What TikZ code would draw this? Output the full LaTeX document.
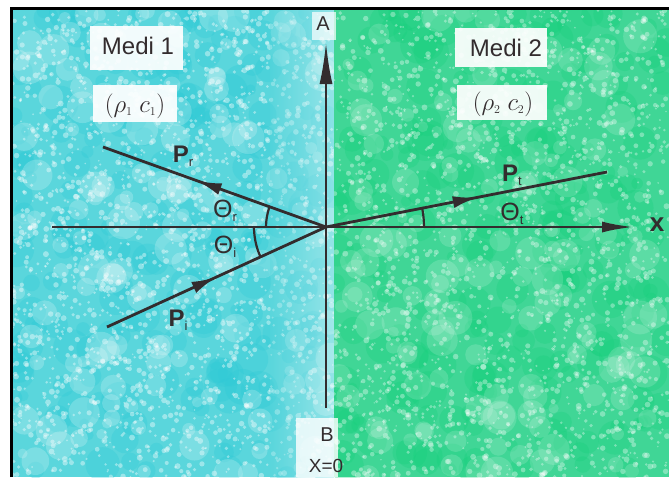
\documentclass[tikz,border=0pt]{standalone}
\usepackage{fontspec}
\setmainfont{Liberation Sans}
\usetikzlibrary{arrows.meta,decorations.markings}
\definecolor{cyanbg}{HTML}{5AD6DC}
\definecolor{cyandk}{HTML}{2ECAD6}
\definecolor{greenbg}{HTML}{40D696}
\definecolor{greendk}{HTML}{16D07C}
\definecolor{ink}{HTML}{332C2E}
\begin{document}
\begin{tikzpicture}[x=1pt,y=-1pt,
  ray/.style={ink,line width=2.8pt},
  axisline/.style={ink,line width=2.8pt},
  midarrow/.style={postaction={decorate,decoration={markings,
     mark=at position #1 with {\arrow{Latex[length=25pt,width=12pt]}}}}},
  anglearc/.style={ink,line width=2.2pt},
  lbl/.style={inner sep=0pt,text=ink},
  whitebox/.style={fill=white,draw=none,opacity=0.92}]
\useasboundingbox (0,0) rectangle (669,477);
\fill[white] (0,0) rectangle (669,477);
% left medium
\begin{scope}
\clip (12,10) rectangle (334,477);
\fill[cyanbg] (12,10) rectangle (334,477);
\pgfmathsetseed{11}
\foreach \i in {1,...,220}{
  \pgfmathsetmacro\px{12+rnd*322}
  \pgfmathsetmacro\py{10+rnd*467}
  \pgfmathsetmacro\pr{5+rnd*14}
  \fill[cyandk,opacity=0.3] (\px,\py) circle (\pr pt);
}
\foreach \i in {1,...,150}{
  \pgfmathsetmacro\px{12+rnd*322}
  \pgfmathsetmacro\py{10+rnd*467}
  \pgfmathsetmacro\pr{5+rnd*12}
  \fill[white,opacity=0.2] (\px,\py) circle (\pr pt);
}
\foreach \i in {1,...,2400}{
  \pgfmathsetmacro\px{12+rnd*322}
  \pgfmathsetmacro\py{10+rnd*467}
  \pgfmathsetmacro\pr{0.8+rnd*2.2}
  \fill[white,opacity=0.4] (\px,\py) circle (\pr pt);
}
\shade[left color=cyanbg,right color=white,opacity=0.35] (270,10) rectangle (334,477);
\end{scope}
% right medium
\begin{scope}
\clip (334,10) rectangle (669,477);
\fill[greenbg] (334,10) rectangle (669,477);
\pgfmathsetseed{23}
\foreach \i in {1,...,220}{
  \pgfmathsetmacro\px{334+rnd*335}
  \pgfmathsetmacro\py{10+rnd*467}
  \pgfmathsetmacro\pr{5+rnd*14}
  \fill[greendk,opacity=0.3] (\px,\py) circle (\pr pt);
}
\foreach \i in {1,...,150}{
  \pgfmathsetmacro\px{334+rnd*335}
  \pgfmathsetmacro\py{10+rnd*467}
  \pgfmathsetmacro\pr{5+rnd*12}
  \fill[white,opacity=0.15] (\px,\py) circle (\pr pt);
}
\foreach \i in {1,...,2200}{
  \pgfmathsetmacro\px{334+rnd*335}
  \pgfmathsetmacro\py{10+rnd*467}
  \pgfmathsetmacro\pr{0.8+rnd*2.2}
  \fill[white,opacity=0.35] (\px,\py) circle (\pr pt);
}
\end{scope}
% frame (top and left only)
\draw[black,line width=3pt] (11,477) -- (11,8.5) -- (669,8.5);
% light zones around axis labels
\fill[white,opacity=0.7] (312,12) rectangle (336,40);
\fill[white,opacity=0.8] (296,418) rectangle (338,477);
% label boxes
\fill[whitebox] (90,26) rectangle (183,70);
\fill[whitebox] (93,85) rectangle (177,122);
\fill[whitebox] (455,28) rectangle (547,67);
\fill[whitebox] (457,85) rectangle (547,120);
\node[lbl,font=\fontsize{24}{26}\selectfont] (m1) at (138,46) {Medi 1};
\node[lbl,font=\fontsize{25}{27}\selectfont] (p1) at (135,106) {$(\rho_{\scriptscriptstyle 1}\;c_{\scriptscriptstyle 1})$};
\node[lbl,font=\fontsize{24}{26}\selectfont] (m2) at (506,48) {Medi 2};
\node[lbl,font=\fontsize{25}{27}\selectfont] (p2) at (503,104) {$(\rho_{\scriptscriptstyle 2}\;c_{\scriptscriptstyle 2})$};
% coordinates
\coordinate (O) at (326,227);
\coordinate (top) at (326,42);
\coordinate (bot) at (326,408);
\coordinate (left) at (52,227);
\coordinate (right) at (634,227);
\coordinate (R) at (103,147);
\coordinate (I) at (107,327);
\coordinate (T) at (607,172);
% axes
\draw[axisline,-{Latex[length=42pt,width=13pt]}] (bot) -- (top);
\draw[axisline,-{Latex[length=32pt,width=11pt]}] (left) -- (right);
% rays
\draw[ray,midarrow=0.58] (O) -- (R);
\draw[ray,midarrow=0.5] (I) -- (O);
\draw[ray,midarrow=0.54] (O) -- (T);
% angle arcs
\draw[anglearc] (O) ++(200:60) arc[start angle=200,end angle=180,radius=60];
\draw[anglearc] (O) ++(180:72) arc[start angle=180,end angle=155.5,radius=72];
\draw[anglearc] (O) ++(349:98) arc[start angle=349,end angle=360,radius=98];
% axis labels
\node[lbl,font=\fontsize{20}{22}\selectfont] (A) at (323,24) {A};
\node[lbl,font=\fontsize{20}{22}\selectfont] (B) at (327,435) {B};
\node[lbl,font=\fontsize{19}{21}\selectfont] (X0) at (326,466) {X=0};
\node[lbl,font=\fontsize{26}{28}\selectfont\bfseries] (xl) at (657,225) {x};
% ray labels
\node[lbl,font=\fontsize{24}{26}\selectfont] (Pr) at (183,156) {\textbf{P}\raisebox{-0.3ex}{\fontsize{13}{14}\selectfont r}};
\node[lbl,font=\fontsize{24}{26}\selectfont] (Pi) at (178,320) {\textbf{P}\raisebox{-0.3ex}{\fontsize{13}{14}\selectfont i}};
\node[lbl,font=\fontsize{24}{26}\selectfont] (Pt) at (512,175) {\textbf{P}\raisebox{-0.3ex}{\fontsize{13}{14}\selectfont t}};
\node[lbl,font=\fontsize{25}{27}\selectfont] (thr) at (225,211) {Θ\raisebox{-0.3ex}{\fontsize{13}{14}\selectfont r}};
\node[lbl,font=\fontsize{25}{27}\selectfont] (thi) at (225,247) {Θ\raisebox{-0.3ex}{\fontsize{13}{14}\selectfont i}};
\node[lbl,font=\fontsize{25}{27}\selectfont] (tht) at (512,214) {Θ\raisebox{-0.3ex}{\fontsize{13}{14}\selectfont t}};
\end{tikzpicture}
\end{document}
